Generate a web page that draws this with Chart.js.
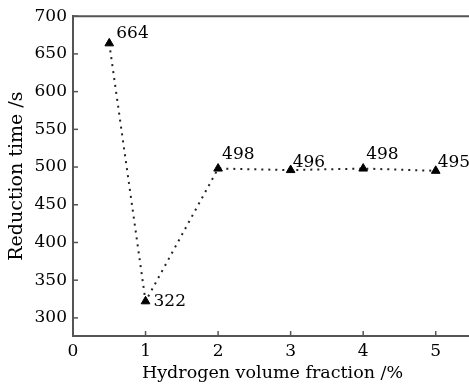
<!DOCTYPE html>
<html>
<head>
<meta charset="utf-8">
<script src="https://cdn.jsdelivr.net/npm/chart.js@4.4.0/dist/chart.umd.min.js"></script>
<style>
  html, body { margin: 0; padding: 0; background: #fff; overflow: hidden; }
  #wrap { width: 480px; height: 386px; }
</style>
</head>
<body>
<div id="wrap"><canvas id="chart"></canvas></div>
<script>
const fractions = [0.5, 1, 2, 3, 4, 5];
const reductionTimes = [664, 322, 498, 496, 498, 495];
const xTicks = [0, 1, 2, 3, 4, 5];
const yTicks = [300, 350, 400, 450, 500, 550, 600, 650, 700];

const serif = "'DejaVu Serif', 'Liberation Serif', serif";
const axisColor = '#555';

// label nudges (dx, dy) relative to each marker, as placed in the figure
const labelShift = [[7, -5], [8, 0], [4, -10], [2, -3], [3, -10], [2, -4]];

// inward tick marks, top frame line and value labels
const decorations = {
  id: 'decorations',
  afterDatasetsDraw(chart) {
    const ctx = chart.ctx;
    const { left, right, top, bottom } = chart.chartArea;
    const xs = chart.scales.x, ys = chart.scales.y;
    ctx.save();
    ctx.strokeStyle = axisColor;
    ctx.lineWidth = 2;
    ctx.beginPath();
    ctx.moveTo(left - 1, top);
    ctx.lineTo(right + 10, top);
    ctx.stroke();
    ctx.lineWidth = 1.5;
    xTicks.forEach(v => {
      if (v === 0) return;
      const px = xs.getPixelForValue(v);
      ctx.beginPath();
      ctx.moveTo(px, bottom);
      ctx.lineTo(px, bottom - 5);
      ctx.stroke();
    });
    yTicks.forEach(v => {
      const py = ys.getPixelForValue(v);
      ctx.beginPath();
      ctx.moveTo(left, py);
      ctx.lineTo(left + 5, py);
      ctx.stroke();
    });
    ctx.fillStyle = '#000';
    ctx.font = '17px ' + serif;
    ctx.textAlign = 'left';
    const meta = chart.getDatasetMeta(0);
    meta.data.forEach((pt, i) => {
      const txt = String(reductionTimes[i]);
      const [dx, dy] = labelShift[i];
      if (i === 1) {
        ctx.textBaseline = 'middle';
        ctx.fillText(txt, pt.x + dx, pt.y + dy);
      } else {
        ctx.textBaseline = 'alphabetic';
        ctx.fillText(txt, pt.x + dx, pt.y + dy);
      }
    });
    ctx.restore();
  }
};

new Chart(document.getElementById('chart'), {
  type: 'scatter',
  data: {
    datasets: [{
      data: fractions.map((x, i) => ({ x: x, y: reductionTimes[i] })),
      showLine: true,
      borderColor: '#222',
      borderWidth: 2,
      borderDash: [2, 5],
      pointStyle: 'triangle',
      pointRadius: 5,
      pointBackgroundColor: '#000',
      pointBorderColor: '#000',
      pointBorderWidth: 1
    }]
  },
  options: {
    responsive: true,
    maintainAspectRatio: false,
    animation: false,
    layout: { padding: { top: 15, right: 8, left: 0, bottom: 0 } },
    plugins: { legend: { display: false }, tooltip: { enabled: false } },
    scales: {
      x: {
        type: 'linear',
        min: 0,
        max: 5.5,
        afterFit: s => { s.height = 50; },
        afterBuildTicks: s => { s.ticks = xTicks.map(v => ({ value: v })); },
        grid: { display: false, drawTicks: false },
        border: { color: axisColor, width: 2 },
        ticks: { color: '#000', font: { family: serif, size: 17 }, padding: 5 },
        title: {
          display: true,
          text: 'Hydrogen volume fraction /%',
          color: '#000',
          font: { family: serif, size: 17.5 },
          padding: { top: 0, bottom: 2 }
        }
      },
      y: {
        min: 276,
        max: 700,
        afterFit: s => { s.width = 73; },
        afterBuildTicks: s => { s.ticks = yTicks.map(v => ({ value: v })); },
        grid: { display: false, drawTicks: false },
        border: { color: axisColor, width: 2 },
        ticks: { color: '#000', font: { family: serif, size: 17 }, padding: 6 },
        title: {
          display: true,
          text: 'Reduction time /s',
          color: '#000',
          font: { family: serif, size: 19 },
          padding: { top: 6, bottom: 0 }
        }
      }
    }
  },
  plugins: [decorations]
});
</script>
</body>
</html>
